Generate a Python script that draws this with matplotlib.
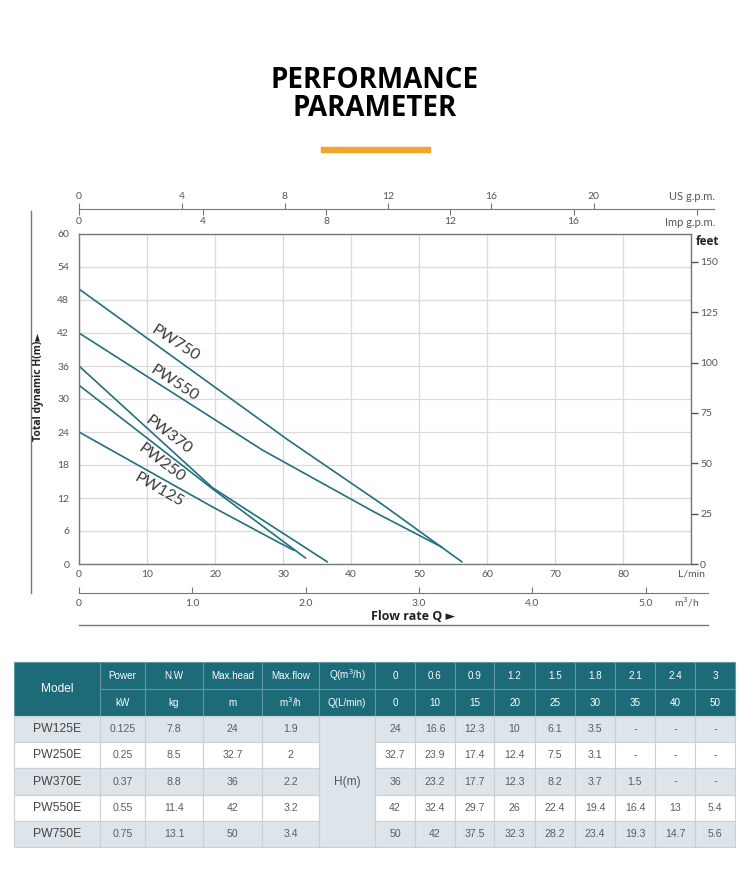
import matplotlib
matplotlib.use('Agg')
import matplotlib.pyplot as plt
from matplotlib.patches import Rectangle
from matplotlib.lines import Line2D

# pump curves (flow in L/min, head in m)
pw750_q = [0, 30.8, 44.3, 56.3]
pw750_h = [50, 22.5, 11.1, 0.4]
pw550_q = [0, 27, 43.5, 53.3]
pw550_h = [42, 20.7, 9.4, 3.1]
pw370_q = [0, 19.6, 36.5]
pw370_h = [36, 13.9, 0.4]
pw250_q = [0, 19.6, 33.3]
pw250_h = [32.5, 13.7, 1.1]
pw125_q = [0, 19.6, 29.4, 31.6]
pw125_h = [24, 10.4, 3.9, 2.5]

# label spots for the curves (L/min, m, angle)
label_pos = {'PW750': (14.1, 40.2, -33), 'PW550': (14.0, 32.9, -33),
             'PW370': (13.1, 23.5, -37), 'PW250': (12.1, 18.4, -37),
             'PW125': (11.8, 13.5, -30)}

head_ticks = list(range(0, 61, 6))
flow_ticks = list(range(0, 91, 10))
feet_ticks = [0, 25, 50, 75, 100, 125, 150]
us_gpm = [0, 4, 8, 12, 16, 20]
imp_gpm = [0, 4, 8, 12, 16, 20]
m3h_ticks = [0, 1.0, 2.0, 3.0, 4.0, 5.0]

# table data
models = ['PW125E', 'PW250E', 'PW370E', 'PW550E', 'PW750E']
power_kw = ['0.125', '0.25', '0.37', '0.55', '0.75']
weight_kg = ['7.8', '8.5', '8.8', '11.4', '13.1']
max_head = ['24', '32.7', '36', '42', '50']
max_flow = ['1.9', '2', '2.2', '3.2', '3.4']
q_m3h = ['0', '0.6', '0.9', '1.2', '1.5', '1.8', '2.1', '2.4', '3']
q_lmin = ['0', '10', '15', '20', '25', '30', '35', '40', '50']
head_rows = [
    ['24', '16.6', '12.3', '10', '6.1', '3.5', '-', '-', '-'],
    ['32.7', '23.9', '17.4', '12.4', '7.5', '3.1', '-', '-', '-'],
    ['36', '23.2', '17.7', '12.3', '8.2', '3.7', '1.5', '-', '-'],
    ['42', '32.4', '29.7', '26', '22.4', '19.4', '16.4', '13', '5.4'],
    ['50', '42', '37.5', '32.3', '28.2', '23.4', '19.3', '14.7', '5.6'],
]

W, H = 750, 871
fig = plt.figure(figsize=(7.5, 8.71), dpi=100)


def fx(px):
    return px / W


def fy(py):
    return 1 - py / H


teal = '#1d6a78'
curve_col = '#23707d'
txt_grey = '#555555'
axis_col = '#777777'
thin = ['Lato', 'DejaVu Sans']
bold_fam = ['Open Sans', 'DejaVu Sans']

# ---- table (pixel coordinates) ----
tax = fig.add_axes([0, 0, 1, 1])
tax.set_xlim(0, W)
tax.set_ylim(H, 0)
tax.axis('off')

col_x = [14, 100, 145, 203, 262, 319, 375, 415, 455, 494, 535, 575, 615, 655, 695, 735]
row_y = [662, 689, 716, 742, 768, 795, 821, 847]
arial = ['Liberation Sans', 'DejaVu Sans']


def cell(c0, c1, r0, r1, fc, ec, text=None, color='#5c5c5c', size=7.6):
    x0, x1 = col_x[c0], col_x[c1]
    y0, y1 = row_y[r0], row_y[r1]
    tax.add_patch(Rectangle((x0, y0), x1 - x0, y1 - y0, facecolor=fc,
                            edgecolor=ec, lw=0.8))
    if text is not None:
        tax.text((x0 + x1) / 2, (y0 + y1) / 2, text, ha='center', va='center',
                 color=color, fontsize=size, family=arial)


hdr_ec = '#5f97a2'
cell(0, 1, 0, 2, teal, hdr_ec, 'Model', 'white', 8.6)
top_hdr = ['Power', 'N.W', 'Max.head', 'Max.flow', 'Q(m$^3$/h)'] + q_m3h
low_hdr = ['kW', 'kg', 'm', 'm$^3$/h', 'Q(L/min)'] + q_lmin
for i, (a, b) in enumerate(zip(top_hdr, low_hdr)):
    cell(1 + i, 2 + i, 0, 1, teal, hdr_ec, a, 'white', 7.1)
    cell(1 + i, 2 + i, 1, 2, teal, hdr_ec, b, 'white', 7.1)

body_ec = '#c9d1d7'
shade = '#dde4ea'
for r in range(len(models)):
    fc = shade if r % 2 == 0 else 'white'
    cell(0, 1, 2 + r, 3 + r, fc, body_ec, models[r], '#444444', 8.8)
    for j, v in enumerate([power_kw[r], weight_kg[r], max_head[r], max_flow[r]]):
        cell(1 + j, 2 + j, 2 + r, 3 + r, fc, body_ec, v)
    for j, v in enumerate(head_rows[r]):
        cell(6 + j, 7 + j, 2 + r, 3 + r, fc, body_ec, v)
cell(5, 6, 2, 7, shade, body_ec, 'H(m)', txt_grey, 8.6)

# ---- title ----
fig.text(0.5, fy(80), 'PERFORMANCE', ha='center', va='center', fontsize=20,
         fontweight='bold', family=bold_fam)
fig.text(0.5, fy(109), 'PARAMETER', ha='center', va='center', fontsize=20,
         fontweight='bold', family=bold_fam)
fig.add_artist(Rectangle((fx(321), fy(152)), fx(430) - fx(321), 5 / H,
                         color='#f4a52c', transform=fig.transFigure))

# ---- main chart ----
ax = fig.add_axes([fx(79), fy(564), (691 - 79) / W, (564 - 234) / H])
curves = [(pw750_q, pw750_h, 'PW750'), (pw550_q, pw550_h, 'PW550'),
          (pw370_q, pw370_h, 'PW370'), (pw250_q, pw250_h, 'PW250'),
          (pw125_q, pw125_h, 'PW125')]
for q, h, name in curves:
    ax.plot(q, h, color=curve_col, lw=1.2)
    lx, ly, rot = label_pos[name]
    ax.text(lx, ly, name, rotation=rot, rotation_mode='anchor', ha='center',
            va='center', fontsize=11.5, color='#3a3a3a', family=thin)

ax.set_xlim(0, 90)
ax.set_ylim(0, 60)
ax.set_xticks(flow_ticks)
ax.set_xticklabels([str(v) for v in flow_ticks[:-1]] + ['L/min'])
ax.set_yticks(head_ticks)
ax.grid(True, color='#dadada', lw=0.9)
ax.set_axisbelow(True)
ax.tick_params(length=0, labelsize=7.5, labelcolor=txt_grey)
ax.tick_params(axis='x', pad=4)
ax.tick_params(axis='y', pad=7)
for s in ax.spines.values():
    s.set_color(axis_col)
    s.set_linewidth(1)
for lab in ax.get_xticklabels() + ax.get_yticklabels():
    lab.set_family(thin)

ax2 = ax.twinx()
ax2.set_ylim(0, 150 * 330 / 302)
ax2.set_yticks(feet_ticks)
ax2.tick_params(axis='y', direction='out', length=5, width=1, color='#555555',
                labelsize=7.5, labelcolor=txt_grey, pad=1.5)
for lab in ax2.get_yticklabels():
    lab.set_family(thin)
for s in ax2.spines.values():
    s.set_visible(False)
fig.text(fx(708), fy(241), 'feet', ha='center', va='center', fontsize=8.5,
         fontweight='bold', family=bold_fam, color='#222222')

# ---- top gpm scale ----
top_max = (714 - 79) / 6.8
axT = fig.add_axes([fx(79), fy(209), (714 - 79) / W, 1e-5])
axT.set_xlim(0, top_max)
axT.set_yticks([])
for k, s in axT.spines.items():
    s.set_visible(k == 'bottom')
axT.spines['bottom'].set_color(axis_col)
axT.set_xticks([g * 4.546 for g in imp_gpm])
axT.set_xticklabels([str(g) for g in imp_gpm[:-1]] + [''])
axT.tick_params(axis='x', direction='out', length=4, color=axis_col,
                labelsize=7.5, labelcolor=txt_grey, pad=2)
axU = axT.twiny()
axU.set_xlim(0, top_max)
for s in axU.spines.values():
    s.set_visible(False)
axU.set_xticks([g * 3.785 for g in us_gpm])
axU.set_xticklabels([str(g) for g in us_gpm])
axU.tick_params(axis='x', direction='out', length=4, color=axis_col,
                labelsize=7.5, labelcolor=txt_grey, pad=2)
for lab in axT.get_xticklabels() + axU.get_xticklabels():
    lab.set_family(thin)
fig.text(fx(715), fy(197), 'US g.p.m.', ha='right', va='center', fontsize=8,
         color=txt_grey, family=thin)
fig.text(fx(715), fy(222), 'Imp g.p.m.', ha='right', va='center', fontsize=8,
         color=txt_grey, family=thin)

# ---- bottom m3/h scale ----
axB = fig.add_axes([fx(79), fy(593), (708 - 79) / W, 1e-5])
axB.set_xlim(0, (708 - 79) / 6.8)
axB.set_yticks([])
for k, s in axB.spines.items():
    s.set_visible(k == 'bottom')
axB.spines['bottom'].set_color(axis_col)
axB.set_xticks([v * 1000 / 60 for v in m3h_ticks])
axB.set_xticklabels(['0'] + ['%.1f' % v for v in m3h_ticks[1:]])
axB.tick_params(axis='x', direction='in', length=4, color=axis_col,
                labelsize=7.5, labelcolor=txt_grey, pad=4)
for lab in axB.get_xticklabels():
    lab.set_family(thin)
fig.text(fx(687), fy(602), 'm$^3$/h', ha='center', va='center', fontsize=7.5,
         color=txt_grey, family=thin)

fig.text(fx(413), fy(616), 'Flow rate Q ►', ha='center', va='center',
         fontsize=9, fontweight='bold', family=bold_fam, color='#222222')
fig.add_artist(Line2D([fx(79), fx(708)], [fy(625), fy(625)], color=axis_col,
                      lw=1, transform=fig.transFigure))

# left frame line and y title
fig.add_artist(Line2D([fx(31), fx(31)], [fy(211), fy(593)], color=axis_col,
                      lw=1, transform=fig.transFigure))
fig.text(fx(38), fy(387), 'Total dynamic H(m)►', rotation=90, ha='center',
         va='center', fontsize=7.5, fontweight='bold', family=bold_fam,
         color='#222222')

fig.savefig('out.png', dpi=100)
